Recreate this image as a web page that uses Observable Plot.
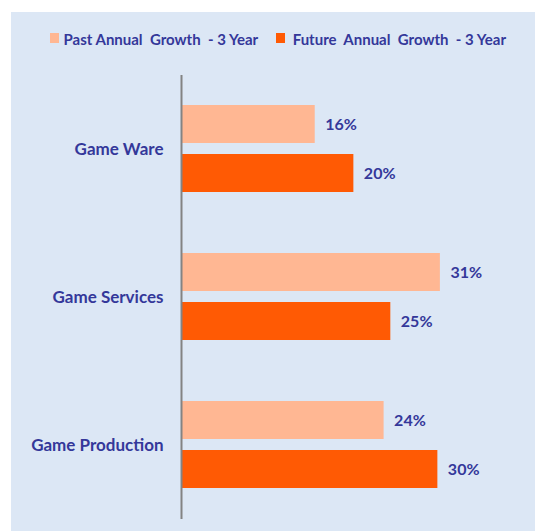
<!DOCTYPE html>
<html>
<head>
<meta charset="utf-8">
<script src="https://cdn.jsdelivr.net/npm/d3@7"></script>
<script src="https://cdn.jsdelivr.net/npm/@observablehq/plot@0.6"></script>
<style>
  html, body { margin: 0; padding: 0; background: #ffffff; }
  #wrap { position: absolute; left: 11px; top: 12px; width: 524px; height: 519px; background: #dce7f5; font-family: Lato, "Open Sans", sans-serif; }
  #legend { position: relative; height: 62px; }
  .sw { position: absolute; width: 9px; height: 10px; top: 21px; }
  .lt { position: absolute; top: 19px; line-height: 17px; font-size: 15px; font-weight: bold; color: #34389a; white-space: pre; }
  #chart svg { display: block; }
</style>
</head>
<body>
<div id="wrap">
  <div id="legend"></div>
  <div id="chart"></div>
</div>
<script>
const categories = ["Game Ware", "Game Services", "Game Production"];
const seriesNames = ["Past Annual  Growth  - 3 Year", "Future  Annual  Growth  - 3 Year"];
const pastGrowth = [15.8, 30.7, 24.0];
const futureGrowth = [20.4, 24.8, 30.4];
const colors = ["#ffb793", "#ff5a04"];
const textColor = "#34389a";

const data = [];
categories.forEach((c, i) => {
  data.push({category: c, series: seriesNames[0], value: pastGrowth[i]});
  data.push({category: c, series: seriesNames[1], value: futureGrowth[i]});
});

// legend
const legend = document.getElementById("legend");
const swLeft = [38.5, 264.7];
const txLeft = [52.5, 281.7];
seriesNames.forEach((s, i) => {
  const sw = document.createElement("div");
  sw.className = "sw";
  sw.style.left = swLeft[i] + "px";
  sw.style.background = colors[i];
  legend.appendChild(sw);
  const t = document.createElement("span");
  t.className = "lt";
  t.style.left = txLeft[i] + "px";
  t.textContent = s;
  legend.appendChild(t);
});

const chart = Plot.plot({
  width: 524,
  height: 457,
  marginTop: 0,
  marginBottom: 12,
  marginLeft: 171,
  marginRight: 17,
  style: {background: "transparent", fontFamily: "Lato, 'Open Sans', sans-serif", fontWeight: "bold", color: textColor},
  x: {domain: [0, 40], axis: null},
  y: {domain: seriesNames, paddingInner: 0.224, paddingOuter: 0.6, axis: null},
  fy: {domain: categories, padding: 0, axis: null},
  color: {domain: seriesNames, range: colors},
  marks: [
    Plot.barX(data, {x: "value", y: "series", fy: "category", fill: "series"}),
    Plot.ruleX([0], {stroke: "#838383", strokeWidth: 2, dx: -1}),
    Plot.text(data, {x: "value", y: "series", fy: "category", text: d => Math.round(d.value) + "%", dx: 10, textAnchor: "start", fontSize: 16, fill: textColor}),
    Plot.axisFy({anchor: "left", label: null, tickSize: 0, tickPadding: 19, fontSize: 17, fill: textColor})
  ]
});
document.getElementById("chart").appendChild(chart);
</script>
</body>
</html>
